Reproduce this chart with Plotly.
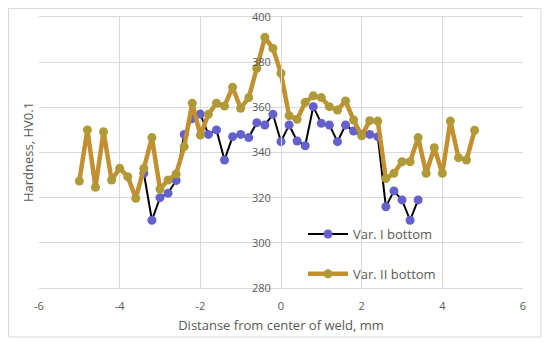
import plotly.graph_objects as go

# Var. II bottom: x from -5.0 to 4.8 step 0.2
x_var2 = [-5.0, -4.8, -4.6, -4.4, -4.2, -4.0, -3.8, -3.6, -3.4, -3.2,
          -3.0, -2.8, -2.6, -2.4, -2.2, -2.0, -1.8, -1.6, -1.4, -1.2,
          -1.0, -0.8, -0.6, -0.4, -0.2, 0.0, 0.2, 0.4, 0.6, 0.8,
          1.0, 1.2, 1.4, 1.6, 1.8, 2.0, 2.2, 2.4, 2.6, 2.8,
          3.0, 3.2, 3.4, 3.6, 3.8, 4.0, 4.2, 4.4, 4.6, 4.8]
y_var2 = [327.4, 350.0, 324.6, 349.2, 327.8, 333.0, 329.3, 319.7, 333.0, 346.6,
          323.8, 327.8, 330.5, 342.6, 361.8, 347.7, 356.9, 361.8, 360.6, 368.9,
          359.6, 364.3, 377.3, 391.0, 386.1, 375.1, 356.3, 354.7, 362.2, 365.1,
          364.3, 360.3, 358.8, 362.8, 354.4, 347.4, 354.1, 353.9, 328.5, 330.8,
          335.9, 335.9, 346.6, 330.8, 342.1, 330.8, 353.9, 337.7, 336.7, 349.8]

# Var. I bottom: x from -3.4 to 3.4 step 0.2
x_var1 = [-3.4, -3.2, -3.0, -2.8, -2.6, -2.4, -2.2, -2.0, -1.8, -1.6,
          -1.4, -1.2, -1.0, -0.8, -0.6, -0.4, -0.2, 0.0, 0.2, 0.4,
          0.6, 0.8, 1.0, 1.2, 1.4, 1.6, 1.8, 2.0, 2.2, 2.4,
          2.6, 2.8, 3.0, 3.2, 3.4]
y_var1 = [330.8, 310.0, 320.0, 322.0, 327.6, 348.0, 355.0, 357.0, 348.0, 350.0,
          336.7, 347.0, 348.0, 346.6, 353.2, 352.2, 356.9, 344.8, 352.2, 345.1,
          343.0, 360.3, 352.9, 352.2, 344.8, 352.2, 349.5, 348.0, 348.0, 347.0,
          316.0, 323.0, 319.0, 310.0, 319.0]

x_ticks = [-6, -4, -2, 0, 2, 4, 6]
y_ticks = [280, 300, 320, 340, 360, 380, 400]

FONT = "Open Sans"
GRID = "#D9D9D9"
TXT = "#595959"

fig = go.Figure()
fig.add_trace(go.Scatter(
    x=x_var1, y=y_var1, mode="lines+markers", name="Var. I bottom",
    line=dict(color="black", width=2),
    marker=dict(color="#6461CC", size=9),
    legendgroup="a",
))
fig.add_trace(go.Scatter(
    x=x_var2, y=y_var2, mode="lines+markers", name="Var. II bottom",
    line=dict(color="#C29030", width=4.5),
    marker=dict(color="#B09A38", size=9),
    legendgroup="b",
))

OFF = 8  # page body margin
W, H = 534, 330
# plot area in page pixels: x 39..523, y 17..288
PL, PR, PT, PB = 39, 523, 17, 288
L = PL - OFF
R = W - (PR - OFF)
T = PT - OFF
B = H - (PB - OFF)
pw, ph = PR - PL, PB - PT

def px2paper_x(px):
    return (px - PL) / pw

def px2paper_y(py):
    return (PB - py) / ph

fig.update_layout(
    width=W, height=H,
    margin=dict(l=L, r=R, t=T, b=B, autoexpand=False),
    paper_bgcolor="white", plot_bgcolor="white",
    font=dict(family=FONT, color=TXT),
    showlegend=True,
    legend=dict(
        x=px2paper_x(303), y=px2paper_y(219), xanchor="left", yanchor="top",
        bgcolor="rgba(0,0,0,0)", font=dict(size=13, color=TXT, family=FONT),
        itemwidth=40, tracegroupgap=20,
    ),
    xaxis=dict(
        range=[-6, 6], tickvals=x_ticks, ticktext=[str(v) for v in x_ticks],
        showgrid=True, gridcolor=GRID, gridwidth=1, automargin=False,
        zeroline=False, showline=True, linecolor=GRID, mirror=True,
        tickfont=dict(size=11, color=TXT), ticks="", ticklabelstandoff=8,
        title=dict(text="Distanse from center of weld, mm",
                   font=dict(size=13, color=TXT), standoff=8),
    ),
    yaxis=dict(
        range=[280, 400], tickvals=y_ticks, ticktext=[str(v) for v in y_ticks],
        showgrid=True, gridcolor=GRID, gridwidth=1, automargin=False,
        zeroline=False, showline=True, linecolor=GRID,
        anchor="free", position=0.5,
        tickfont=dict(size=11, color=TXT), ticks="", ticklabelstandoff=8,
    ),
    annotations=[dict(
        text="Hardness, HV0.1", textangle=-90,
        xref="paper", yref="paper",
        x=px2paper_x(28), y=px2paper_y(152),
        showarrow=False, font=dict(size=13, color=TXT, family=FONT),
        xanchor="center", yanchor="middle",
    )],
    shapes=[dict(
        type="rect", xref="paper", yref="paper",
        x0=px2paper_x(8.5), x1=px2paper_x(541),
        y0=px2paper_y(337), y1=px2paper_y(8.5),
        line=dict(color=GRID, width=1), fillcolor="rgba(0,0,0,0)",
        layer="below",
    )],
)

fig.write_html("out.html")
